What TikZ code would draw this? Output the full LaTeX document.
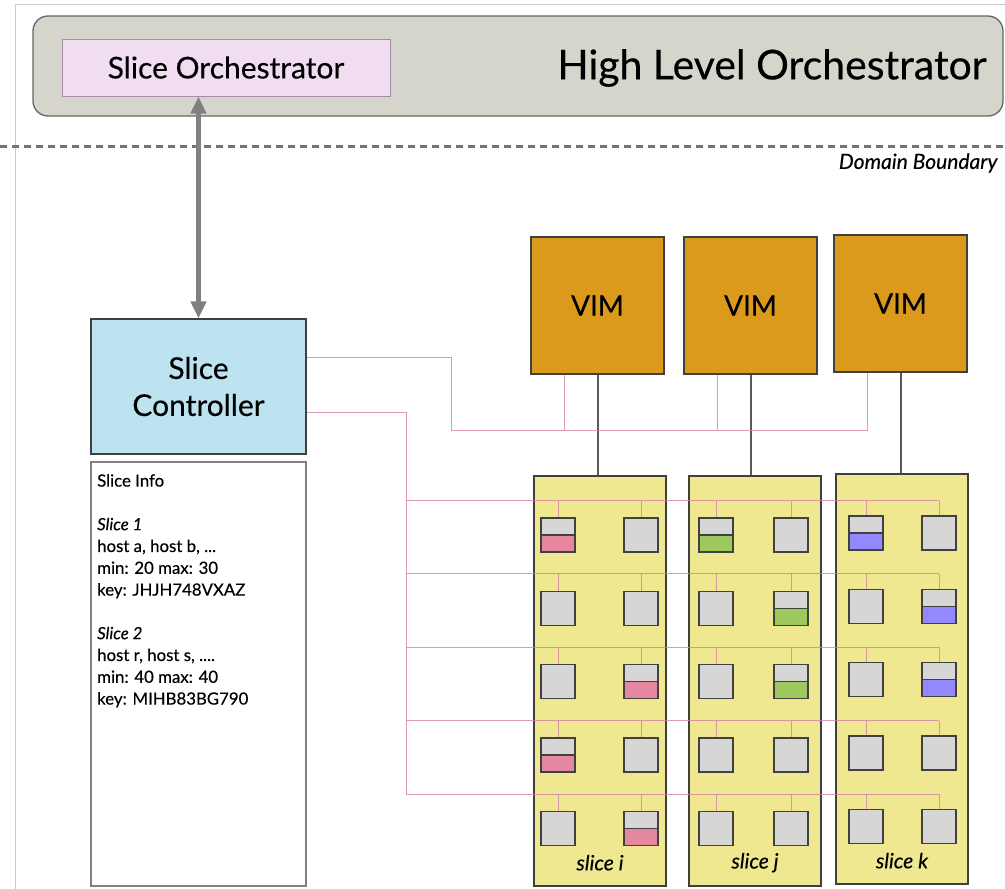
\documentclass[tikz,border=0pt]{standalone}
\usepackage{fontspec}
\setmainfont{Lato}[FakeBold=0.35]
\usetikzlibrary{arrows.meta, positioning, calc}

\definecolor{hlogray}{RGB}{214,213,204}
\definecolor{orchpink}{RGB}{241,221,241}
\definecolor{orchedge}{RGB}{170,140,170}
\definecolor{ctrlblue}{RGB}{189,227,240}
\definecolor{vimorange}{RGB}{220,154,28}
\definecolor{slicey}{RGB}{240,232,145}
\definecolor{hostgray}{RGB}{214,214,214}
\definecolor{wirepink}{RGB}{210,130,165}
\definecolor{usedi}{RGB}{229,135,160}
\definecolor{usedj}{RGB}{157,201,92}
\definecolor{usedk}{RGB}{148,136,255}

\begin{document}
\begin{tikzpicture}[x=1pt, y=-1pt,
  box/.style={draw=black!75, line width=1.3pt, inner sep=0pt},
  vim/.style={box, fill=vimorange, minimum width=133pt, minimum height=137pt, font=\fontsize{28}{28}\selectfont},
  col/.style={box, fill=slicey, minimum width=132pt, minimum height=410pt},
  host/.style={box, fill=hostgray, minimum size=34pt},
  used/.style={host, path picture={\fill[#1] (path picture bounding box.west) rectangle (path picture bounding box.south east);
    \draw[black!75, line width=1.3pt] (path picture bounding box.west) -- (path picture bounding box.east);}},
  wire/.style={draw=wirepink, draw opacity=.8, line width=.9pt},
  uplink/.style={draw=black!65, line width=2pt}]
\useasboundingbox (0,0) rectangle (1005,889);
\draw[black!20, line width=.8pt] (1005,4) -- (15,4) -- (15,889);

% orchestrator level
\node[draw=black!60, line width=1.3pt, fill=hlogray, rounded corners=15pt, minimum width=970pt, minimum height=100pt] (hlo) at (518,66) {};
\node[font=\fontsize{41}{41}\selectfont] (hlotext) at (772,68) {High Level Orchestrator};
\node[draw=orchedge, line width=1pt, fill=orchpink, minimum width=328pt, minimum height=57pt, font=\fontsize{30}{30}\selectfont] (orch) at (226,67.5) {Slice Orchestrator};

\coordinate (db1) at (0,146);
\coordinate (db2) at (1005,146);
\draw[black!55, line width=3pt, dash pattern=on 7pt off 5pt] (db1) -- (db2);
\node[font=\fontsize{21}{21}\selectfont\itshape, anchor=east] (dbtext) at (1001,163) {Domain Boundary};

% controller and info
\node[box, fill=ctrlblue, minimum width=215pt, minimum height=135pt, align=center, font=\fontsize{30}{37}\selectfont] (ctrl) at (198.5,386.5) {Slice\\Controller};
\node[draw=black!50, line width=2pt, minimum width=215pt, minimum height=424pt] (info) at (198.5,674) {};
\node[anchor=north west, align=left, inner sep=0pt, font=\fontsize{16.8}{21.8}\selectfont] (infotext) at ($(info.north west)+(7,13)$)
  {Slice Info\\[21.8pt]
   \textit{Slice 1}\\ host a, host b, ...\\ min: 20 max: 30\\ key: JHJH748VXAZ\\[21.8pt]
   \textit{Slice 2}\\ host r, host s, ....\\ min: 40 max: 40\\ key: MIHB83BG790};

\draw[black!50, line width=4.5pt, {Triangle[length=17pt,width=15pt]}-{Triangle[length=17pt,width=15pt]}] (ctrl.north) -- (ctrl.north |- orch.south);

% VIMs and slices
\node[vim] (vim1) at (597.5,305.5) {VIM};
\node[vim] (vim2) at (750.5,305.5) {VIM};
\node[vim] (vim3) at (900.5,303.5) {VIM};

\node[col] (ci) at (600,681) {};
\node[col] (cj) at (755,681) {};
\node[col] (ck) at (902,679) {};

\draw[uplink] (vim1.south) -- (vim1.south |- ci.north);
\draw[uplink] (vim2.south) -- (vim2.south |- cj.north);
\draw[uplink] (vim3.south) -- (vim3.south |- ck.north);

% controller to VIMs
\coordinate (cw1) at ($(ctrl.east)+(0,-29.5)$);
\coordinate (cw2) at ($(ctrl.east)+(0,25.5)$);
\coordinate (vbus) at (451,430);
\foreach \v in {1,2,3} {
  \coordinate (vs\v) at ($(vim\v.south)+(-33,0)$);
  \draw[wire] (vs\v) -- (vs\v |- vbus);
}
\draw[wire] (cw1) -| (vbus) -- (vbus -| vs3);

% hosts
\foreach \s/\dl/\dr in {i/-42/41, j/-39/36, k/-36/37} {
  \foreach \r in {1,...,5} {
    \node[host] (\s-\r-1) at ($(c\s.north)+(\dl,{59.5+73.4*(\r-1)})$) {};
    \node[host] (\s-\r-2) at ($(c\s.north)+(\dr,{59.5+73.4*(\r-1)})$) {};
  }
}
\foreach \n/\c in {i-1-1/usedi, i-3-2/usedi, i-4-1/usedi, i-5-2/usedi,
                   j-1-1/usedj, j-2-2/usedj, j-3-2/usedj,
                   k-1-1/usedk, k-2-2/usedk, k-3-2/usedk}
  \node[used=\c] (u-\n) at (\n) {};

% controller to hosts
\foreach \r in {1,...,5} {
  \coordinate (b\r) at (406,{500.5+73.4*(\r-1)});
  \draw[wire] (b\r) -- (b\r -| k-\r-2);
  \foreach \s in {i,j,k} {
    \draw[wire] (\s-\r-1.north) -- (\s-\r-1.north |- b\r);
    \draw[wire] (\s-\r-2.north) -- (\s-\r-2.north |- b\r);
  }
}
\draw[wire] (cw2) -| (b5);

\node[font=\fontsize{21}{21}\selectfont\itshape] (li) at ($(ci.south)+(0,-24)$) {slice i};
\node[font=\fontsize{21}{21}\selectfont\itshape] (lj) at ($(cj.south)+(0,-24)$) {slice j};
\node[font=\fontsize{21}{21}\selectfont\itshape] (lk) at ($(ck.south)+(0,-24)$) {slice k};
\end{tikzpicture}
\end{document}
